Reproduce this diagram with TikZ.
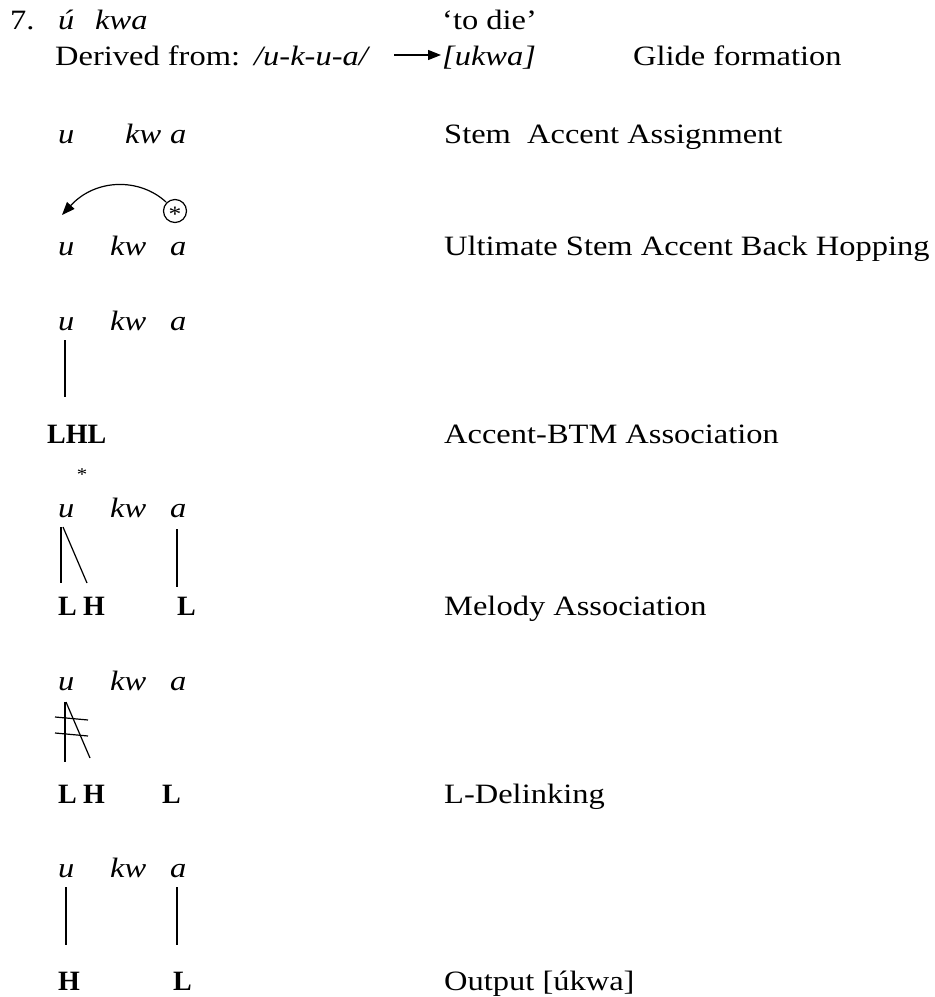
\documentclass[tikz,border=0pt]{standalone}
\usepackage{fontspec}
\setmainfont[FakeStretch=1.16]{Liberation Serif}
\newfontfamily\tonefont{Liberation Serif}
\usetikzlibrary{arrows.meta}
\begin{document}
\begin{tikzpicture}[x=1pt,y=-1pt,
  txt/.style={anchor=base west,inner sep=0pt,font=\fontsize{28}{32}\selectfont},
  itx/.style={txt,font=\fontsize{28}{32}\selectfont\itshape},
  tone/.style={txt,font=\tonefont\fontsize{28}{32}\selectfont\bfseries},
  star/.style={anchor=base,inner sep=0pt},
  assoc/.style={line width=1.2pt},
  arr/.style={line width=1.2pt,-{Triangle[length=13pt,width=10pt]}}]
\useasboundingbox (0,0) rectangle (935,997);
% header
\node[txt] (num) at (10,29) {7.};
\node[itx] (w1) at (58,29) {ú};
\node[itx] (w2) at (95,29) {kwa};
\node[txt] (gloss) at (442,29) {‘to die’};
\node[txt] (der) at (55,65) {Derived from:};
\node[itx] (ur) at (254,65) {/u-k-u-a/};
\node[itx] (sr) at (442,65) {[ukwa]};
\node[txt] (glide) at (633,65) {Glide formation};
\coordinate (a0) at (394,55);
\coordinate (a1) at (441,55);
\draw[arr] (a0) -- (a1);
% row 3
\node[itx] (u3) at (58,143) {u};
\node[itx] (k3) at (125,143) {kw};
\node[itx] (v3) at (170,143) {a};
\node[txt] (r3) at (444,143) {Stem\ \ Accent Assignment};
% row 4
\node[star,font=\fontsize{22}{24}\selectfont] (s4) at (175,221) {*};
\draw[line width=1.2pt] (175,211) circle (11.5);
\coordinate (c4a) at (166,202);
\coordinate (c4b) at (62,215);
\draw[arr] (c4a) .. controls (140,178) and (96,178) .. (c4b);
\node[itx] (u4) at (58,255) {u};
\node[itx] (k4) at (110,255) {kw};
\node[itx] (v4) at (170,255) {a};
\node[txt] (r4) at (444,255) {Ultimate Stem Accent Back Hopping};
% row 5
\node[itx] (u5) at (58,330) {u};
\node[itx] (k5) at (110,330) {kw};
\node[itx] (v5) at (170,330) {a};
\coordinate (l5a) at (65,340);
\coordinate (l5b) at (65,397);
\draw[assoc] (l5a) -- (l5b);
\node[tone] (lhl) at (47,443) {LHL};
\node[txt] (r5) at (444,443) {Accent-BTM Association};
% row 6
\node[star,font=\fontsize{18}{20}\selectfont] (s6) at (82,480) {*};
\node[itx] (u6) at (58,517) {u};
\node[itx] (k6) at (110,517) {kw};
\node[itx] (v6) at (170,517) {a};
\coordinate (l6a) at (61,527);
\coordinate (l6b) at (61,583);
\coordinate (l6c) at (63,527);
\coordinate (l6d) at (87,583);
\coordinate (l6e) at (177,529);
\coordinate (l6f) at (177,587);
\draw[assoc] (l6a) -- (l6b);
\draw[assoc] (l6c) -- (l6d);
\draw[assoc] (l6e) -- (l6f);
\node[tone] (L6) at (58,615) {L};
\node[tone] (H6) at (83,615) {H};
\node[tone] (M6) at (177,615) {L};
\node[txt] (r6) at (444,615) {Melody Association};
% row 7
\node[itx] (u7) at (58,690) {u};
\node[itx] (k7) at (110,690) {kw};
\node[itx] (v7) at (170,690) {a};
\coordinate (l7a) at (65,702);
\coordinate (l7b) at (65,762);
\coordinate (l7c) at (66,702);
\coordinate (l7d) at (90,758);
\coordinate (x7a) at (55,717);
\coordinate (x7b) at (88,720);
\coordinate (x7c) at (55,733);
\coordinate (x7d) at (88,736);
\draw[assoc] (l7a) -- (l7b);
\draw[assoc] (l7c) -- (l7d);
\draw[assoc] (x7a) -- (x7b);
\draw[assoc] (x7c) -- (x7d);
\node[tone] (L7) at (58,803) {L};
\node[tone] (H7) at (83,803) {H};
\node[tone] (M7) at (162,803) {L};
\node[txt] (r7) at (444,803) {L-Delinking};
% row 8
\node[itx] (u8) at (58,877) {u};
\node[itx] (k8) at (110,877) {kw};
\node[itx] (v8) at (170,877) {a};
\coordinate (l8a) at (66,887);
\coordinate (l8b) at (66,945);
\coordinate (l8c) at (177,887);
\coordinate (l8d) at (177,945);
\draw[assoc] (l8a) -- (l8b);
\draw[assoc] (l8c) -- (l8d);
\node[tone] (H8) at (58,990) {H};
\node[tone] (L8) at (173,990) {L};
\node[txt] (r8) at (444,990) {Output [úkwa]};
\end{tikzpicture}
\end{document}
